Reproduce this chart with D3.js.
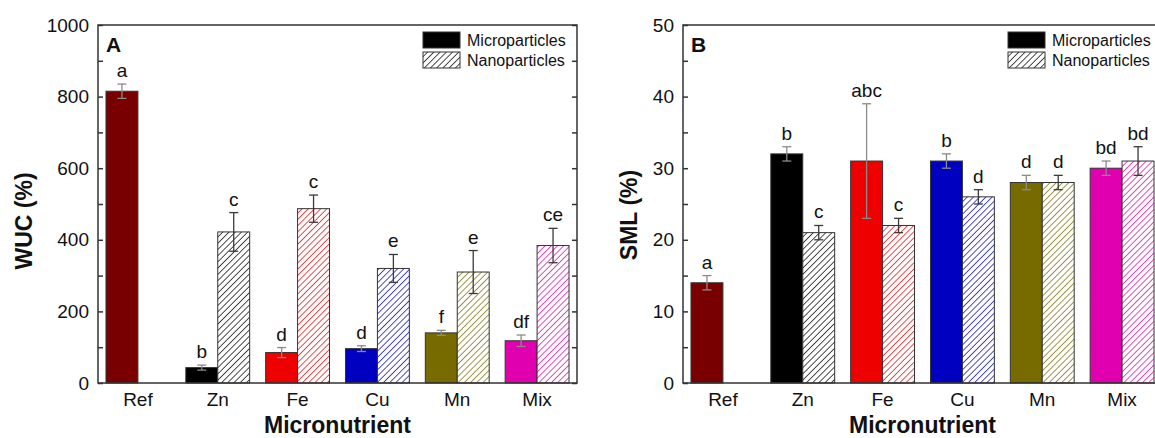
<!DOCTYPE html>
<html>
<head>
<meta charset="utf-8">
<script src="https://cdn.jsdelivr.net/npm/d3@7"></script>
<style>
  body { margin: 0; background: #fff; }
  text { font-family: Arial, "Liberation Sans", sans-serif; fill: #111; }
</style>
</head>
<body>
<svg id="chart" width="1155" height="438"></svg>
<script>
const categories = ["Ref", "Zn", "Fe", "Cu", "Mn", "Mix"];
const colors = ["#780000", "#000000", "#ee0000", "#0000c0", "#776b00", "#e000b0"];

// panel A: WUC (%)
const wucMicro = [815, 43, 85, 96, 140, 118];
const wucMicroErr = [20, 7, 14, 8, 7, 16];
const wucNano = [null, 422, 487, 320, 310, 384];
const wucNanoErr = [null, 54, 38, 39, 60, 48];
const wucMicroLetters = ["a", "b", "d", "d", "f", "df"];
const wucNanoLetters = [null, "c", "c", "e", "e", "ce"];
const wucTicks = [0, 200, 400, 600, 800, 1000];
const wucMinor = [100, 300, 500, 700, 900];

// panel B: SML (%)
const smlMicro = [14, 32, 31, 31, 28, 30];
const smlMicroErr = [1, 1, 8, 1, 1, 1];
const smlNano = [null, 21, 22, 26, 28, 31];
const smlNanoErr = [null, 1, 1, 1, 1, 2];
const smlMicroLetters = ["a", "b", "abc", "b", "d", "bd"];
const smlNanoLetters = [null, "c", "c", "d", "d", "bd"];
const smlTicks = [0, 10, 20, 30, 40, 50];
const smlMinor = [5, 15, 25, 35, 45];

const seriesNames = ["Microparticles", "Nanoparticles"];

const svg = d3.select("#chart");
const axisColor = "#333";

// hatch patterns, one per colour
const defs = svg.append("defs");
colors.forEach((c, i) => {
  const p = defs.append("pattern")
    .attr("id", "hatch" + i)
    .attr("patternUnits", "userSpaceOnUse")
    .attr("width", 4.4)
    .attr("height", 4.4)
    .attr("patternTransform", "rotate(45)");
  p.append("rect").attr("width", 4.4).attr("height", 4.4).attr("fill", "#fff");
  p.append("line")
    .attr("x1", 0).attr("y1", 0).attr("x2", 0).attr("y2", 4.4)
    .attr("stroke", c).attr("stroke-width", 1.4);
});

function drawPanel(o) {
  const top = 25, bottom = 383;
  const x = d3.scaleBand().domain(categories).range([o.left, o.right]).padding(0);
  const y = d3.scaleLinear().domain([0, o.max]).range([bottom, top]);
  const barW = x.bandwidth() * 0.4;
  const g = svg.append("g");

  const rows = categories.map((c, i) => ({
    cat: c, i,
    micro: o.micro[i], microErr: o.microErr[i], microLetter: o.microLetters[i],
    nano: o.nano[i], nanoErr: o.nanoErr[i], nanoLetter: o.nanoLetters[i]
  }));

  // bars
  g.selectAll(".micro").data(rows).join("rect")
    .attr("class", "micro")
    .attr("x", d => x(d.cat) + x.bandwidth() / 2 - barW)
    .attr("y", d => y(d.micro))
    .attr("width", barW)
    .attr("height", d => bottom - y(d.micro))
    .attr("fill", d => colors[d.i])
    .attr("stroke", axisColor)
    .attr("stroke-width", 1);

  const nanoRows = rows.filter(d => d.nano != null);
  g.selectAll(".nano").data(nanoRows).join("rect")
    .attr("class", "nano")
    .attr("x", d => x(d.cat) + x.bandwidth() / 2)
    .attr("y", d => y(d.nano))
    .attr("width", barW)
    .attr("height", d => bottom - y(d.nano))
    .attr("fill", d => `url(#hatch${d.i})`)
    .attr("stroke", axisColor)
    .attr("stroke-width", 1);

  // error bars + letters
  const errs = [];
  rows.forEach(d => {
    const cx = x(d.cat) + x.bandwidth() / 2;
    errs.push({ cx: cx - barW / 2, v: d.micro, e: d.microErr, t: d.microLetter, col: "#8a8a8a" });
    if (d.nano != null)
      errs.push({ cx: cx + barW / 2, v: d.nano, e: d.nanoErr, t: d.nanoLetter, col: "#3a3a3a" });
  });
  const cap = 4.5;
  const eg = g.selectAll(".err").data(errs).join("g").attr("class", "err")
    .attr("stroke", d => d.col).attr("stroke-width", 1.3);
  eg.append("line")
    .attr("x1", d => d.cx).attr("x2", d => d.cx)
    .attr("y1", d => y(d.v - d.e)).attr("y2", d => y(d.v + d.e));
  eg.append("line")
    .attr("x1", d => d.cx - cap).attr("x2", d => d.cx + cap)
    .attr("y1", d => y(d.v + d.e)).attr("y2", d => y(d.v + d.e));
  eg.append("line")
    .attr("x1", d => d.cx - cap).attr("x2", d => d.cx + cap)
    .attr("y1", d => y(d.v - d.e)).attr("y2", d => y(d.v - d.e));

  g.selectAll(".letter").data(errs).join("text")
    .attr("class", "letter")
    .attr("x", d => d.cx)
    .attr("y", d => y(d.v + d.e) - 7)
    .attr("text-anchor", "middle")
    .attr("font-size", 19)
    .text(d => d.t);

  // frame
  g.append("rect")
    .attr("x", o.left).attr("y", top)
    .attr("width", o.right - o.left).attr("height", bottom - top)
    .attr("fill", "none").attr("stroke", axisColor).attr("stroke-width", 1.5);

  // left axis (ticks inward)
  const yAxis = d3.axisLeft(y).tickValues(o.ticks).tickSize(-5).tickPadding(9)
    .tickFormat(d3.format("d")).tickSizeOuter(0);
  const ya = g.append("g").attr("transform", `translate(${o.left},0)`).call(yAxis);
  const yMinor = d3.axisLeft(y).tickValues(o.minor).tickSize(-5).tickFormat("").tickSizeOuter(0);
  const ym = g.append("g").attr("transform", `translate(${o.left},0)`).call(yMinor);
  // right axis ticks inward, no labels
  const yRight = d3.axisRight(y).tickValues(o.ticks.concat(o.minor)).tickSize(-5).tickFormat("").tickSizeOuter(0);
  const yr = g.append("g").attr("transform", `translate(${o.right},0)`).call(yRight);

  // bottom category labels
  const xAxis = d3.axisBottom(x).tickSize(0).tickPadding(10);
  const xa = g.append("g").attr("transform", `translate(0,${bottom})`).call(xAxis);

  [ya, ym, yr, xa].forEach(a => {
    a.select(".domain").remove();
    a.selectAll("line").attr("stroke", axisColor).attr("stroke-width", 1.5);
    a.selectAll("text").attr("font-size", 19).attr("fill", "#111")
      .style("font-family", "Arial, 'Liberation Sans', sans-serif");
  });

  // axis titles
  g.append("text")
    .attr("x", (o.left + o.right) / 2).attr("y", 433)
    .attr("text-anchor", "middle").attr("font-size", 23).attr("font-weight", "bold")
    .text("Micronutrient");
  g.append("text")
    .attr("transform", `translate(${o.titleX},${o.titleY}) rotate(-90)`)
    .attr("text-anchor", "middle").attr("font-size", 23).attr("font-weight", "bold")
    .text(o.yTitle);

  // panel letter
  g.append("text")
    .attr("x", o.left + 8).attr("y", 52)
    .attr("font-size", 21).attr("font-weight", "bold")
    .text(o.panel);

  // legend
  const lx = o.right - 154;
  seriesNames.forEach((s, k) => {
    const ly = 32 + k * 20;
    g.append("rect")
      .attr("x", lx).attr("y", ly).attr("width", 37).attr("height", 16)
      .attr("fill", k === 0 ? "#000" : "url(#hatch1)")
      .attr("stroke", axisColor).attr("stroke-width", 1);
    g.append("text")
      .attr("x", lx + 44).attr("y", ly + 13.5)
      .attr("font-size", 16)
      .text(s);
  });
}

drawPanel({
  left: 98, right: 577, max: 1000,
  micro: wucMicro, microErr: wucMicroErr, nano: wucNano, nanoErr: wucNanoErr,
  microLetters: wucMicroLetters, nanoLetters: wucNanoLetters,
  ticks: wucTicks, minor: wucMinor,
  yTitle: "WUC (%)", titleX: 32, titleY: 221, panel: "A"
});

drawPanel({
  left: 683, right: 1162, max: 50,
  micro: smlMicro, microErr: smlMicroErr, nano: smlNano, nanoErr: smlNanoErr,
  microLetters: smlMicroLetters, nanoLetters: smlNanoLetters,
  ticks: smlTicks, minor: smlMinor,
  yTitle: "SML (%)", titleX: 637, titleY: 215, panel: "B"
});
</script>
</body>
</html>
